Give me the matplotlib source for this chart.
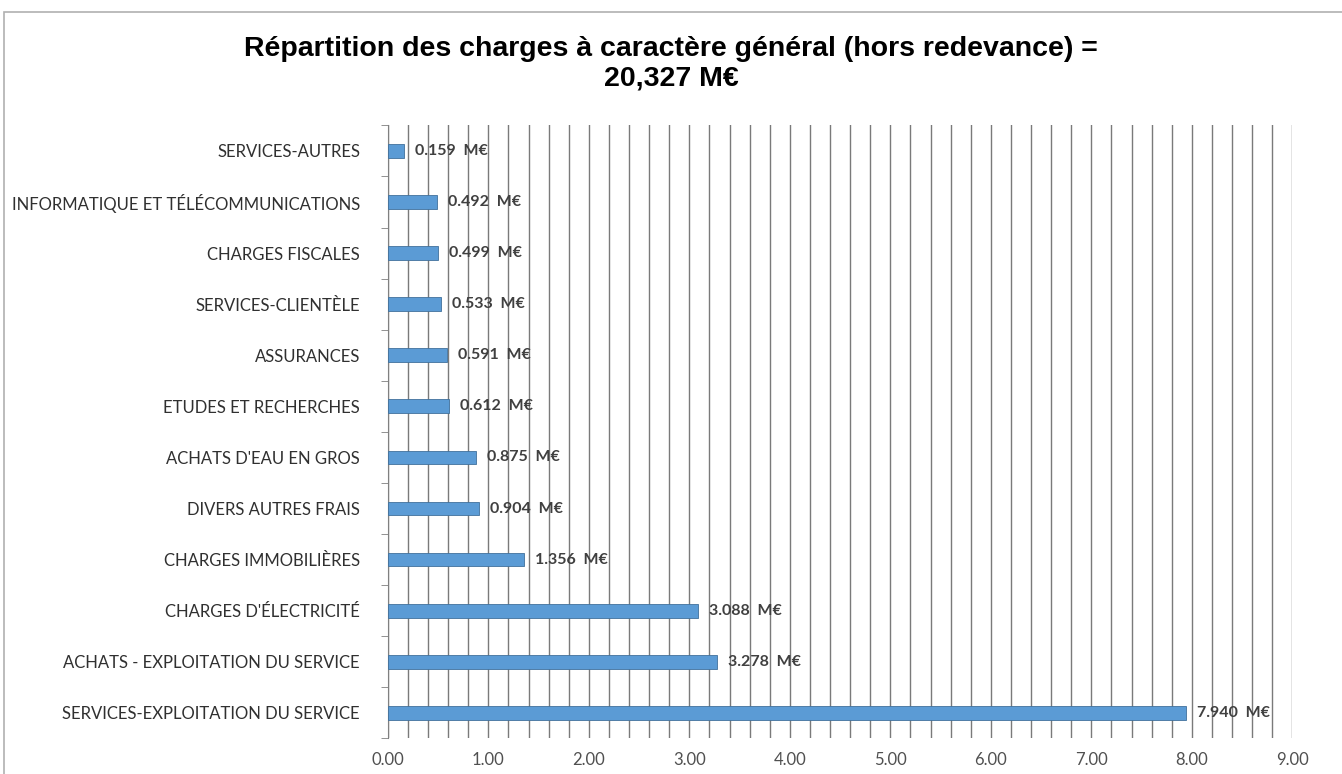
import matplotlib.pyplot as plt
from matplotlib.patches import Rectangle
import numpy as np

categories = ["SERVICES-AUTRES", "INFORMATIQUE ET TÉLÉCOMMUNICATIONS", "CHARGES FISCALES",
              "SERVICES-CLIENTÈLE", "ASSURANCES", "ETUDES ET RECHERCHES",
              "ACHATS D'EAU EN GROS", "DIVERS AUTRES FRAIS", "CHARGES IMMOBILIÈRES",
              "CHARGES D'ÉLECTRICITÉ", "ACHATS - EXPLOITATION DU SERVICE",
              "SERVICES-EXPLOITATION DU SERVICE"]
values = [0.159, 0.492, 0.499, 0.533, 0.591, 0.612, 0.875, 0.904, 1.356, 3.088, 3.278, 7.940]
title = "Répartition des charges à caractère général (hors redevance) =\n20,327 M€"

fig = plt.figure(figsize=(13.42, 7.74), dpi=100)
ax = fig.add_axes([0.289, 0.046, 0.674, 0.792])

n = len(categories)
y = np.arange(n)[::-1]
ax.barh(y, values, height=0.27, color="#5B9BD5", edgecolor="#41719C", linewidth=0.6, zorder=3)

for yi, v in zip(y, values):
    ax.text(v + 0.11, yi, f"{v:.3f}  M€", va="center", ha="left", fontsize=11.5,
            fontweight="bold", color="#404040", family=["Lato", "DejaVu Sans"], zorder=4)

ax.set_xlim(0, 9)
ax.set_ylim(-0.5, n - 0.5)
ax.set_xticks(np.arange(0, 10, 1))
ax.set_xticklabels([f"{t:.2f}" for t in range(10)], fontsize=12, color="#505050",
                   family=["Lato", "DejaVu Sans"])
ax.set_xticks(np.arange(0, 9.01, 0.2), minor=True)
ax.grid(axis="x", which="both", color="#7a7a7a", linewidth=1.0, zorder=0)
ax.tick_params(axis="x", which="both", length=0, pad=10)

ax.set_yticks(y)
ax.set_yticklabels(categories, fontsize=12, color="#303030", family=["Lato", "DejaVu Sans"])
ax.set_yticks(np.arange(-0.5, n, 1), minor=True)
ax.tick_params(axis="y", which="major", length=0, pad=20)
ax.tick_params(axis="y", which="minor", length=5, color="#808080")

for s in ["top", "right", "bottom"]:
    ax.spines[s].set_visible(False)
ax.spines["left"].set_color("#808080")

fig.text(0.5, 0.953, title, ha="center", va="top", fontsize=20.5, fontweight="bold",
         family=["Liberation Sans Narrow", "Liberation Sans", "DejaVu Sans"], linespacing=1.15)

fig.patches.append(Rectangle((4 / 1342, -0.1), 1.2, 1 - 12 / 774 + 0.1, transform=fig.transFigure,
                             fill=False, edgecolor="#b0b0b0", linewidth=1.2))

fig.savefig("out.png", dpi=100)
